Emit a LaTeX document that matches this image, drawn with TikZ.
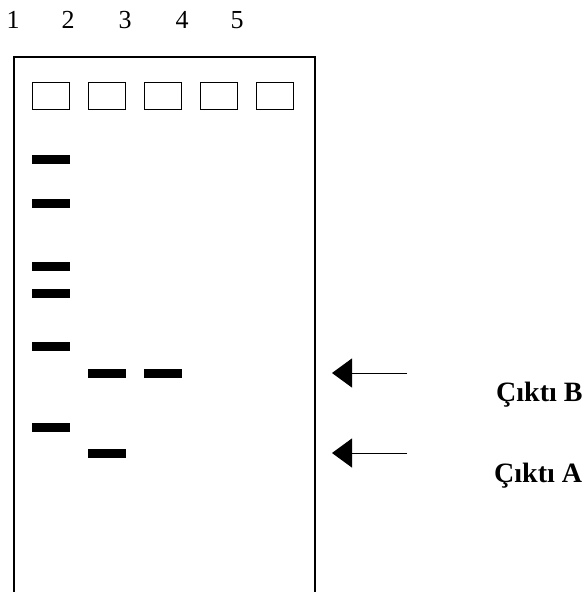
\documentclass[tikz,border=0pt]{standalone}
\usepackage{fontspec}
\setmainfont{Liberation Serif}
\usetikzlibrary{arrows.meta}
\begin{document}
\begin{tikzpicture}[x=1pt,y=-1pt,
  wellbox/.style={draw,line width=0.8pt,minimum width=37pt,minimum height=27pt,inner sep=0pt},
  band/.style={fill=black,minimum width=38pt,minimum height=9pt,inner sep=0pt},
  lanelabel/.style={anchor=base,font=\fontsize{26}{29}\selectfont,inner sep=0pt},
  outlabel/.style={anchor=base west,font=\fontsize{28}{32}\selectfont\bfseries,inner sep=0pt},
  pointer/.style={line width=1pt,-{Triangle[length=20pt,width=29pt]}}]
\useasboundingbox (0,0) rectangle (587,592);
% lane numbers
\node[lanelabel] (l1) at (13,28) {1};
\node[lanelabel] (l2) at (68,28) {2};
\node[lanelabel] (l3) at (125,28) {3};
\node[lanelabel] (l4) at (182,28) {4};
\node[lanelabel] (l5) at (237,28) {5};
% gel outline (open at the bottom)
\draw[line width=2pt] (14,592) -- (14,57) -- (315,57) -- (315,592);
% wells
\node[wellbox] (w1) at (51,95.5) {};
\node[wellbox] (w2) at (106.5,95.5) {};
\node[wellbox] (w3) at (163,95.5) {};
\node[wellbox] (w4) at (219,95.5) {};
\node[wellbox] (w5) at (275,95.5) {};
% lane 1 bands
\node[band] (b11) at (51,159.5) {};
\node[band] (b12) at (51,203.5) {};
\node[band] (b13) at (51,266.5) {};
\node[band] (b14) at (51,293.5) {};
\node[band] (b15) at (51,346.5) {};
\node[band] (b16) at (51,427.5) {};
% lane 2 bands
\node[band] (b21) at (107,373.5) {};
\node[band] (b22) at (107,453.5) {};
% lane 3 band
\node[band] (b31) at (163,373.5) {};
% arrows
\coordinate (sB) at (407,373);
\coordinate (tB) at (332,373);
\coordinate (sA) at (407,453);
\coordinate (tA) at (332,453);
\draw[pointer] (sB) -- (tB);
\draw[pointer] (sA) -- (tA);
% labels
\node[outlabel] (cB) at (496,401) {Çıktı B};
\node[outlabel] (cA) at (494,482) {Çıktı A};
\end{tikzpicture}
\end{document}
